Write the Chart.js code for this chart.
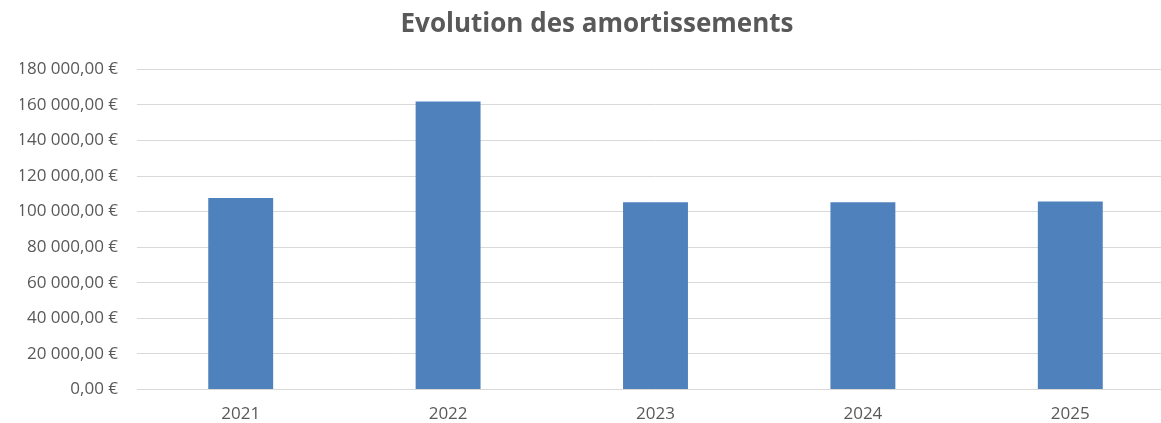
<html>
<head>
<script src="https://cdn.jsdelivr.net/npm/chart.js@4"></script>
<style>
	html, body { margin: 0; padding: 0; overflow: hidden; background: #fff; }
	canvas { display: block; }
</style>
</head>
<body>
	<canvas id="myChart" width="1194" height="423"></canvas>
<script>
	var years = ['2021', '2022', '2023', '2024', '2025'];
	var amortissements = [107600, 161900, 105200, 105200, 105700];
	var chartTitle = 'Evolution des amortissements';

	function euro(value) {
		var s = Math.round(value).toString();
		s = s.replace(/\B(?=(\d{3})+(?!\d))/g, ' ');
		return s + ',00 €';
	}

	var grey = '#595959';
	var ctx = document.getElementById('myChart').getContext('2d');
	var chart = new Chart(ctx, {
		type: 'bar',
		data: {
			labels: years,
			datasets: [{
				label: 'Amortissements',
				backgroundColor: '#4f81bd',
				borderColor: '#4f81bd',
				data: amortissements,
				categoryPercentage: 1,
				barPercentage: 0.313
			}]
		},
		options: {
			responsive: false,
			maintainAspectRatio: false,
			animation: false,
			devicePixelRatio: 1,
			layout: { padding: { left: 20, right: 20, top: 0, bottom: -15 } },
			plugins: {
				legend: { display: false },
				tooltip: { enabled: false },
				title: {
					display: true,
					text: chartTitle,
					color: grey,
					font: { family: 'Open Sans', size: 26, weight: 'bold' },
					padding: { top: 9, bottom: 29 }
				}
			},
			scales: {
				x: {
					grid: { display: false, drawTicks: false },
					border: { display: false },
					ticks: { color: grey, font: { family: 'Open Sans', size: 17 }, padding: 14 }
				},
				y: {
					min: 0,
					max: 180000,
					afterFit: function(scale) { scale.width = 117; },
					grid: { color: '#d9d9d9', lineWidth: 1, drawTicks: false },
					border: { display: false },
					ticks: {
						stepSize: 20000,
						color: grey,
						font: { family: 'Open Sans', size: 17 },
						padding: 19,
						callback: function(v) { return euro(v); }
					}
				}
			}
		}
	});
</script>
</body>
</html>
